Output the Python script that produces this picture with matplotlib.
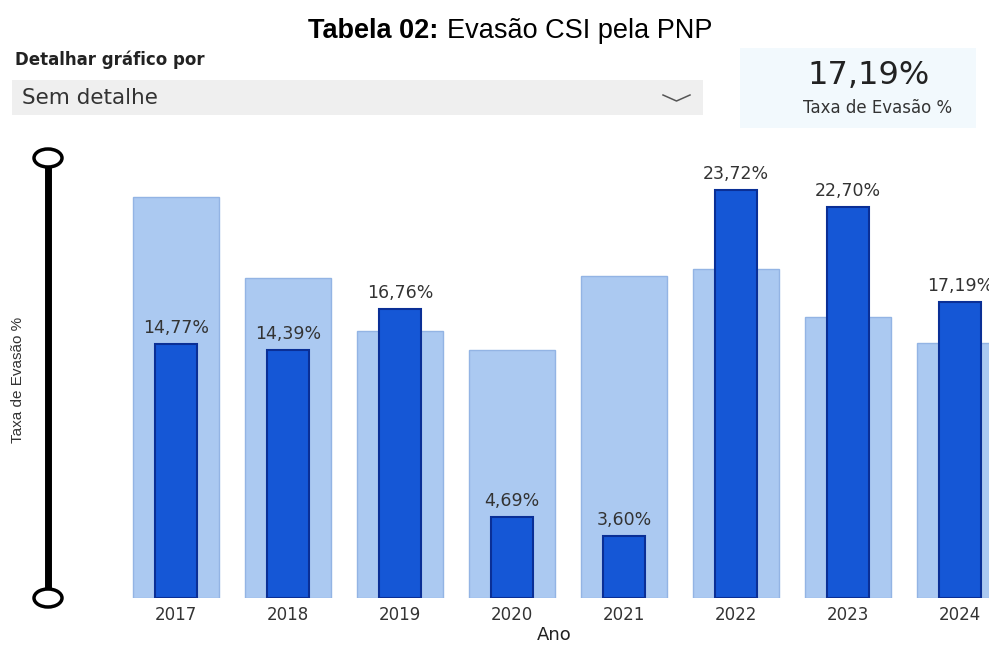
import matplotlib
matplotlib.use("Agg")
import matplotlib.pyplot as plt
from matplotlib.patches import Rectangle, Ellipse

# --- data ---
anos = ["2017", "2018", "2019", "2020", "2021", "2022", "2023", "2024"]
taxa_evasao = [14.77, 14.39, 16.76, 4.69, 3.60, 23.72, 22.70, 17.19]
taxa_referencia = [23.3, 18.6, 15.5, 14.4, 18.7, 19.1, 16.3, 14.8]
rotulos = ["14,77%", "14,39%", "16,76%", "4,69%", "3,60%", "23,72%", "22,70%", "17,19%"]
cartao_valor = "17,19%"

W, H = 989, 646
fig = plt.figure(figsize=(W / 100, H / 100), dpi=100)
fig.patch.set_facecolor("white")

# overlay in pixel coords for the report widgets
deco = fig.add_axes([0, 0, 1, 1])
deco.set_xlim(0, W)
deco.set_ylim(H, 0)
deco.axis("off")

# dropdown box
deco.add_patch(Rectangle((12, 80), 691, 35, facecolor="#efefef", edgecolor="none"))
deco.plot([663, 676.5, 690], [95, 101, 95], color="#555555", lw=1.1)
# card
deco.add_patch(Rectangle((740, 48), 236, 80, facecolor="#f2f9fd", edgecolor="none"))
# slider
deco.plot([48, 48], [166, 590], color="black", lw=5, solid_capstyle="butt")
for yc in (158, 598):
    deco.add_patch(Ellipse((48, yc), 28, 18, facecolor="white", edgecolor="black", lw=2.5, zorder=3))

# title: bold part + regular part
fig.text(438 / W, 1 - 38 / H, "Tabela 02:", ha="right", va="baseline",
         fontsize=19.5, fontweight="bold", family="Liberation Sans", color="black")
fig.text(447 / W, 1 - 38 / H, "Evasão CSI pela PNP", ha="left", va="baseline",
         fontsize=19.5, family="Liberation Sans", color="black")

fig.text(15 / W, 1 - 60 / H, "Detalhar gráfico por", ha="left", va="center",
         fontsize=12, fontweight="bold", family="DejaVu Sans", color="#222222")
fig.text(22 / W, 1 - 98 / H, "Sem detalhe", ha="left", va="center",
         fontsize=15.5, family="DejaVu Sans", color="#333333")
fig.text(869 / W, 1 - 76 / H, cartao_valor, ha="center", va="center",
         fontsize=23, family="DejaVu Sans", color="#222222")
fig.text(878 / W, 1 - 108 / H, "Taxa de Evasão %", ha="center", va="center",
         fontsize=12, family="DejaVu Sans", color="#333333")
fig.text(18 / W, 1 - 380 / H, "Taxa de Evasão %", ha="center", va="center", rotation=90,
         fontsize=11, family="Liberation Sans", color="#333333")

# --- bar chart ---
ax = fig.add_axes([120 / W, 48 / H, 1 - 120 / W, 458 / H])
ax.patch.set_alpha(0)
x = range(len(anos))
ax.bar(x, taxa_referencia, width=0.77, color="#abc9f1", edgecolor="#93b4e4", lw=1, zorder=1)
ax.bar(x, taxa_evasao, width=0.37, color="#1557d6", edgecolor="#0a2f96", lw=1.5, zorder=2)
for xi, v, r in zip(x, taxa_evasao, rotulos):
    ax.annotate(r, (xi, v), xytext=(0, 5), textcoords="offset points", ha="center", va="bottom",
                fontsize=12.5, family="DejaVu Sans", color="#333333")

ax.set_xlim(-0.5, 7.26)
ax.set_ylim(0, 26.6)
ax.set_xticks(list(x))
ax.set_xticklabels(anos, fontsize=12, family="DejaVu Sans", color="#333333")
ax.tick_params(axis="x", length=0, pad=6)
ax.set_yticks([])
ax.set_xlabel("Ano", fontsize=13, family="DejaVu Sans", color="#222222", labelpad=1)
for s in ax.spines.values():
    s.set_visible(False)

fig.savefig("out.png", dpi=100)
